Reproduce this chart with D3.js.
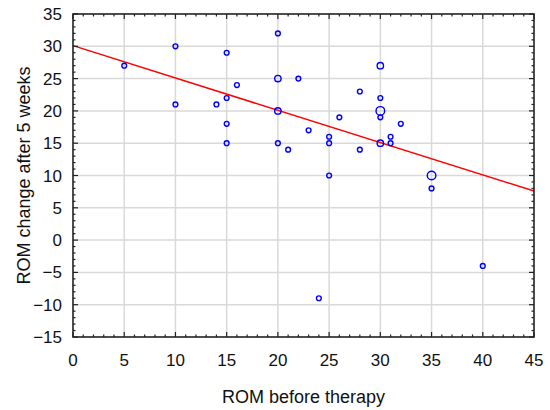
<!DOCTYPE html>
<html><head><meta charset="utf-8">
<script src="https://cdn.jsdelivr.net/npm/d3@7"></script>
<style>body{margin:0;background:#fff}svg{display:block}text{font-family:"Liberation Sans",Arial,sans-serif}</style>
</head><body><svg id="c" width="550" height="410"></svg>
<script>
const romBefore = [5,10,10,14,15,15,15,15,16,20,20,20,20,21,22,23,24,25,25,25,26,28,28,30,30,30,30,30,31,31,32,35,35,40];
const romChange = [27,30,21,21,29,22,18,15,24,32,25,20,15,14,25,17,-9,16,15,10,19,23,14,27,22,20,19,15,16,15,18,10,8,-4];
const counts    = [1,1,1,1,1,1,1,1,1,1,2,2,1,1,1,1,1,1,1,1,1,1,1,2,1,3,1,2,1,1,1,3,1,1];
const xTicks = [0,5,10,15,20,25,30,35,40,45];
const yTicks = [-15,-10,-5,0,5,10,15,20,25,30,35];
const fitIntercept = 30.1, fitSlope = -0.5;

const svg = d3.select("#c");
const L=73, R=534, T=14, B=337;
const x = d3.scaleLinear().domain([0,45]).range([L,R]);
const y = d3.scaleLinear().domain([-15,35]).range([B,T]);
const minorX = d3.range(0,46,1), minorY = d3.range(-15,36,1);

// grid
svg.append("g").selectAll("line").data(xTicks.slice(1,-1)).join("line")
  .attr("x1",d=>x(d)).attr("x2",d=>x(d)).attr("y1",T).attr("y2",B)
  .attr("stroke","#d9d9d9").attr("stroke-width",1.5);
svg.append("g").selectAll("line").data(yTicks.slice(1,-1)).join("line")
  .attr("y1",d=>y(d)).attr("y2",d=>y(d)).attr("x1",L).attr("x2",R)
  .attr("stroke","#d9d9d9").attr("stroke-width",1.5);

// regression line
svg.append("line")
  .attr("x1",x(0)).attr("y1",y(fitIntercept))
  .attr("x2",x(45)).attr("y2",y(fitIntercept+fitSlope*45))
  .attr("stroke","#ff0000").attr("stroke-width",1.5);

// points
const pts = romBefore.map((v,i)=>({x:v,y:romChange[i],n:counts[i]}));
const rad = {1:2.4,2:3.2,3:4.3};
svg.append("g").selectAll("circle").data(pts).join("circle")
  .attr("cx",d=>x(d.x)).attr("cy",d=>y(d.y)).attr("r",d=>rad[d.n])
  .attr("fill","none").attr("stroke","#0000ff").attr("stroke-width",1.4);

// axes with inward ticks on all sides
function axisTicks(){
  const g = svg.append("g").attr("stroke","#222");
  const bigX = new Set(xTicks), bigY = new Set(yTicks);
  minorX.forEach(v=>{
    const len = bigX.has(v)?5:2.5;
    g.append("line").attr("x1",x(v)).attr("x2",x(v)).attr("y1",B).attr("y2",B-len).attr("stroke-width",1.2);
    g.append("line").attr("x1",x(v)).attr("x2",x(v)).attr("y1",T).attr("y2",T+len).attr("stroke-width",1.2);
  });
  minorY.forEach(v=>{
    const len = bigY.has(v)?5:2.5;
    g.append("line").attr("y1",y(v)).attr("y2",y(v)).attr("x1",L).attr("x2",L+len).attr("stroke-width",1.2);
    g.append("line").attr("y1",y(v)).attr("y2",y(v)).attr("x1",R).attr("x2",R-len).attr("stroke-width",1.2);
  });
  svg.append("rect").attr("x",L).attr("y",T).attr("width",R-L).attr("height",B-T)
    .attr("fill","none").attr("stroke","#222").attr("stroke-width",1.6);
}
axisTicks();

const fmt = d3.format("");
svg.append("g").selectAll("text").data(xTicks).join("text")
  .attr("x",d=>x(d)).attr("y",B+29).attr("text-anchor","middle")
  .attr("font-size",17).attr("fill","#111").text(d=>fmt(d));
svg.append("g").selectAll("text").data(yTicks).join("text")
  .attr("x",L-11).attr("y",d=>y(d)+6).attr("text-anchor","end")
  .attr("font-size",17).attr("fill","#111").text(d=>fmt(d));

svg.append("text").attr("x",(L+R)/2).attr("y",403).attr("text-anchor","middle")
  .attr("font-size",18).attr("fill","#111").text("ROM before therapy");
svg.append("text").attr("transform",`translate(30,${(T+B)/2}) rotate(-90)`)
  .attr("text-anchor","middle").attr("font-size",18).attr("fill","#111").text("ROM change after 5 weeks");
</script></body></html>
